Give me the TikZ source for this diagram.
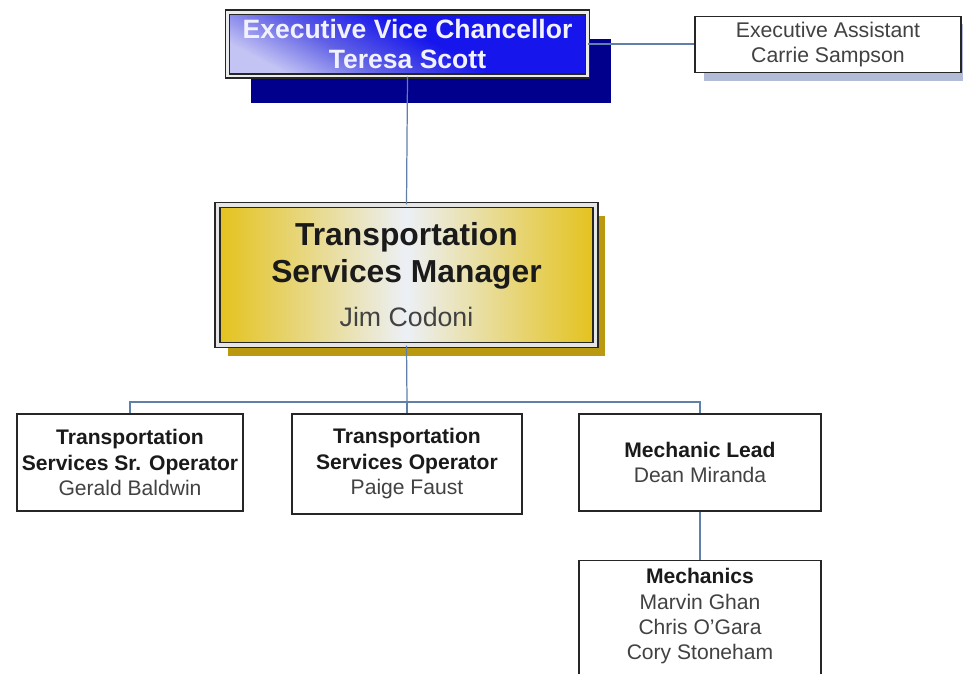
\documentclass[tikz,border=0pt]{standalone}
\usepackage{fontspec}
\setmainfont{Liberation Sans}
\usepackage{xcolor}
\usepackage{tikz}
\usetikzlibrary{shadows,calc}
\definecolor{ChancellorBlue}{RGB}{22,22,236}
\definecolor{ChancellorMid}{RGB}{96,96,230}
\definecolor{ChancellorLight}{RGB}{196,196,244}
\definecolor{ChancellorShadow}{RGB}{0,0,140}
\definecolor{ChancellorText}{RGB}{242,242,255}
\definecolor{ManagerGold}{RGB}{228,194,28}
\definecolor{ManagerMist}{RGB}{236,240,246}
\definecolor{ManagerShadow}{RGB}{186,152,16}
\definecolor{AssistantShadow}{RGB}{178,188,216}
\definecolor{LinkBlue}{RGB}{96,128,170}
\definecolor{BoxLine}{RGB}{38,38,38}
\definecolor{TitleInk}{RGB}{26,26,26}
\definecolor{NameGray}{RGB}{66,66,66}
\pgfdeclareverticalshading{evcfade}{100bp}{color(0bp)=(ChancellorLight);
  color(25bp)=(ChancellorLight); color(39bp)=(ChancellorMid);
  color(54bp)=(ChancellorBlue); color(100bp)=(ChancellorBlue)}

\begin{document}
\begin{tikzpicture}[x=0.02cm,y=-0.02cm,
  postbox/.style={draw=BoxLine,line width=0.8pt,fill=white,align=center,
    inner xsep=2pt,text=TitleInk,font=\fontsize{12}{14.5}\selectfont},
  linkline/.style={draw=LinkBlue,line width=0.7pt}]
  \useasboundingbox (0,0) rectangle (963,673);
  \clip (0,0) rectangle (963,673);
  \fill[white] (0,0) rectangle (963,673);

  % top level
  \node[draw=BoxLine,line width=0.6pt,double=white!85!gray,double distance=1.7pt,
    shading=evcfade,shading angle=-28,
    minimum width=72mm,minimum height=12.8mm,align=center,text=ChancellorText,
    font=\fontsize{15.1}{17}\selectfont\bfseries,
    drop shadow={shadow xshift=13.5pt,shadow yshift=-15.5pt,fill=ChancellorShadow,opacity=1}]
    (evc) at (407.5,44) {Executive Vice Chancellor\\Teresa Scott};
  \node[postbox,minimum width=53.2mm,minimum height=10.2mm,text=NameGray,
    font=\fontsize{12.1}{14.2}\selectfont,
    drop shadow={shadow xshift=5pt,shadow yshift=-4.6pt,fill=AssistantShadow,opacity=1}]
    (ea) at (828,44.5) {Executive Assistant\\Carrie Sampson};

  % manager
  \node[draw=BoxLine,line width=0.8pt,double=white!80!gray,double distance=2.2pt,
    left color=ManagerGold,right color=ManagerGold,middle color=ManagerMist,
    minimum width=75.6mm,minimum height=28mm,align=center,text=TitleInk,
    font=\fontsize{18.1}{20.5}\selectfont,
    drop shadow={shadow xshift=5.7pt,shadow yshift=-6.3pt,fill=ManagerShadow,opacity=1}]
    (tsm) at (406.5,275) {\textbf{Transportation}\\\textbf{Services Manager}\\[5pt]%
      {\fontsize{15.2}{18}\selectfont\color{NameGray}Jim Codoni}};

  % staff
  \node[postbox,minimum width=45.2mm,minimum height=19.4mm] (op1) at (130,462.5)
    {\textbf{Transportation}\\\textbf{Services Sr. Operator}\\\textcolor{NameGray}{Gerald Baldwin}};
  \node[postbox,minimum width=46mm,minimum height=20mm] (op2) at (407,464)
    {\textbf{Transportation}\\\textbf{Services Operator}\\\textcolor{NameGray}{Paige Faust}};
  \node[postbox,minimum width=48.4mm,minimum height=19.4mm] (lead) at (700,462.5)
    {\textbf{Mechanic Lead}\\\textcolor{NameGray}{Dean Miranda}};
  \node[postbox,minimum width=48.4mm,inner ysep=4.3pt,anchor=north] (mech) at (700,560)
    {\textbf{Mechanics}\\\textcolor{NameGray}{Marvin Ghan}\\\textcolor{NameGray}{Chris O'Gara}\\
     \textcolor{NameGray}{Cory Stoneham}\\\mbox{}};

  % connectors
  \coordinate (bus) at (407,402);
  \draw[linkline] (evc.east) -- (evc.east -| ea.west);
  \draw[linkline] (evc.south) -- (tsm.north);
  \draw[linkline] (tsm.south) -- (bus);
  \draw[linkline] (op1.north) |- (bus) -| (lead.north);
  \draw[linkline] (bus) -- (op2.north);
  \draw[linkline] (lead.south) -- (mech.north);
\end{tikzpicture}
\end{document}
